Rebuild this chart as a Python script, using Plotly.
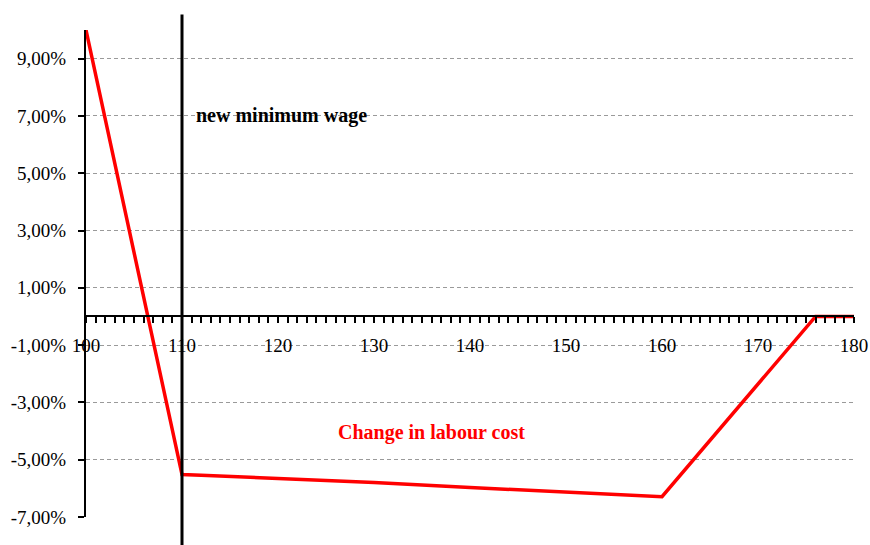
import plotly.graph_objects as go

# data
wage_level = [100, 110, 112, 120, 130, 140, 150, 155, 160, 176, 180]
labour_cost_change = [10.0, -5.52, -5.54, -5.65, -5.80, -5.97, -6.12, -6.20, -6.29, 0.0, 0.0]
new_minimum_wage = 110
y_tick_values = [-7, -5, -3, -1, 1, 3, 5, 7, 9]
y_tick_labels = ["-7,00%", "-5,00%", "-3,00%", "-1,00%", "1,00%", "3,00%", "5,00%", "7,00%", "9,00%"]
y_min, y_max = -7, 10
x_min, x_max = 100, 180

SERIF = "Liberation Serif, Times New Roman, serif"

fig = go.Figure()
fig.add_trace(go.Scatter(
    x=wage_level, y=labour_cost_change, mode="lines",
    line=dict(color="#ff0000", width=3.5),
    cliponaxis=False, showlegend=False, hoverinfo="skip",
))

fig.add_shape(type="line", xref="x", yref="paper",
              x0=new_minimum_wage, x1=new_minimum_wage, y0=-0.07, y1=1.032,
              line=dict(color="black", width=3), layer="above")

fig.add_annotation(x=111.2, y=7.0, xref="x", yref="y", text="<b>new minimum wage</b>",
                   showarrow=False, xanchor="left", yanchor="middle",
                   font=dict(family=SERIF, size=20, color="black"))
fig.add_annotation(x=136.0, y=-4.04, xref="x", yref="y", text="<b>Change in labour cost</b>",
                   showarrow=False, xanchor="center", yanchor="middle",
                   font=dict(family=SERIF, size=20, color="#ff0000"))

fig.update_layout(
    width=870, height=545,
    margin=dict(l=86, r=16, t=30, b=28, autoexpand=False),
    paper_bgcolor="white", plot_bgcolor="white",
    font=dict(family=SERIF, size=19, color="black"),
    xaxis=dict(
        range=[x_min, x_max], anchor="free", position=(0 - y_min) / (y_max - y_min),
        automargin=False,
        showgrid=False, zeroline=False, showline=True, linecolor="black", linewidth=2,
        ticks="outside", ticklen=6, tickwidth=2, tickcolor="black",
        tick0=100, dtick=1, ticklabelstep=10, ticklabelstandoff=6,
        tickfont=dict(family=SERIF, size=19),
    ),
    yaxis=dict(
        range=[y_min, y_max], tickvals=y_tick_values, ticktext=y_tick_labels,
        automargin=False,
        showgrid=True, gridcolor="#9a9a9a", gridwidth=1, griddash="4px,3px",
        zeroline=False, showline=True, linecolor="black", linewidth=2,
        ticks="outside", ticklen=6, tickwidth=2, tickcolor="black",
        ticklabelstandoff=8, tickfont=dict(family=SERIF, size=19),
    ),
)

fig.write_html(
    "out.html",
    config={"displayModeBar": False},
    post_script="document.body.style.margin='0';document.body.style.overflow='hidden';",
)
